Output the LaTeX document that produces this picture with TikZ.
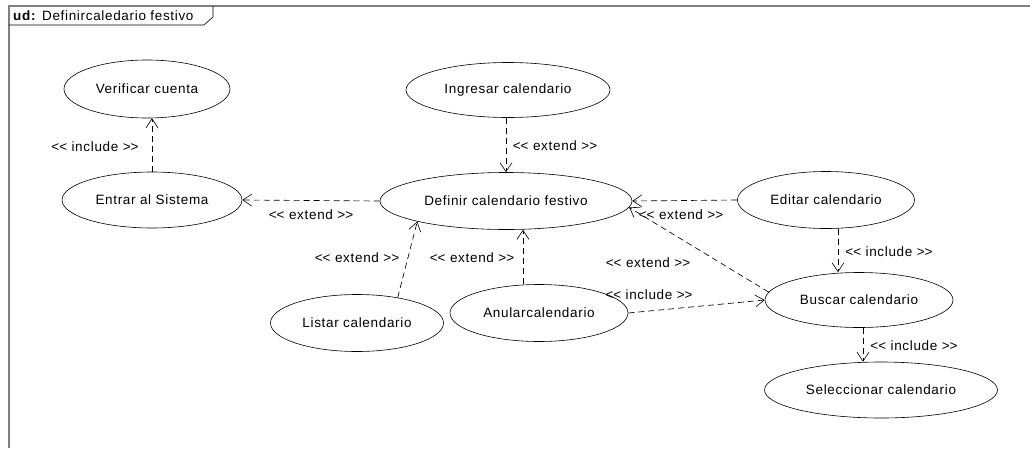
\documentclass[tikz,border=0pt]{standalone}
\usepackage{fontspec}
\setmainfont{Liberation Sans}[LetterSpace=5]
\usetikzlibrary{shapes.geometric,arrows.meta,calc}
\newcommand\stlt{\mbox{<}\mbox{<}}
\newcommand\stgt{\mbox{>}\mbox{>}}
\begin{document}
\begin{tikzpicture}[x=1pt,y=-1pt,
  font=\fontsize{13.5}{16}\selectfont,
  uc/.style={draw=black, line width=0.6pt, ellipse, inner sep=0pt},
  dep/.style={draw=black, line width=0.65pt, dash pattern=on 6pt off 4pt,
     -{Straight Barb[length=9pt,width=12pt,line width=0.6pt]}},
  lbl/.style={inner sep=0pt}]
\useasboundingbox (0,0) rectangle (1030,448);
\fill[white] (0,0) rectangle (1030,448);
% frame
\draw[gray, line width=1.2pt] (9,448) -- (9,6) -- (1030,6);
\draw[black, line width=0.6pt] (9,25) -- (204,25) -- (213,17) -- (213,6);
\node[lbl, anchor=west] (title) at (13,16) {\textbf{ud:} Definircaledario festivo};
% use cases
\node[uc, minimum width=166pt, minimum height=58pt] (verificar) at (147,89) {Verificar cuenta};
\node[uc, minimum width=204pt, minimum height=55pt] (ingresar) at (508,90) {Ingresar calendario};
\node[uc, minimum width=180pt, minimum height=56pt] (entrar) at (152,200) {Entrar al Sistema};
\node[uc, minimum width=252pt, minimum height=57pt] (definir) at (506,201) {Definir calendario festivo};
\node[uc, minimum width=177pt, minimum height=57pt] (editar) at (826,200) {Editar calendario};
\node[uc, minimum width=188pt, minimum height=55pt] (buscar) at (859,300) {Buscar calendario};
\node[uc, minimum width=233pt, minimum height=56pt] (seleccionar) at (881,390) {Seleccionar calendario};
\node[uc, minimum width=173pt, minimum height=57pt] (listar) at (357,323) {Listar calendario};
\node[uc, minimum width=178pt, minimum height=57pt] (anular) at (539,313) {Anularcalendario};
% connector end points
\coordinate (anS) at ($(anular.north)+(-16,0)$);
\coordinate (edS) at ($(editar.south)+(12,0)$);
\coordinate (buS) at ($(buscar.south)+(4,0)$);
% connectors
\draw[dep] (entrar.north) -- (entrar.north |- verificar.south);
\draw[dep] (definir.north |- ingresar.south) -- (definir.north);
\draw[dep] (definir.west) -- (entrar.east);
\draw[dep] (listar.32) -- (definir.193.7);
\draw[dep] (anS) -- (anS |- definir.south);
\draw[dep] (editar.west) -- (definir.east);
\draw[dep] (buscar.175.6) -- (definir.-3.5);
\draw[dep] (anular.east) -- (buscar.west);
\draw[dep] (edS) -- (edS |- buscar.north);
\draw[dep] (buS) -- (buS |- seleccionar.north);
% labels
\node[lbl] (l1) at (95,147) {\stlt{} include \stgt};
\node[lbl] (l2) at (555,146) {\stlt{} extend \stgt};
\node[lbl] (l3) at (311,215) {\stlt{} extend \stgt};
\node[lbl] (l4) at (357,258) {\stlt{} extend \stgt};
\node[lbl] (l5) at (472,258) {\stlt{} extend \stgt};
\node[lbl] (l6) at (681,215) {\stlt{} extend \stgt};
\node[lbl] (l7) at (648,263) {\stlt{} extend \stgt};
\node[lbl] (l8) at (649,295) {\stlt{} include \stgt};
\node[lbl] (l9) at (889,252) {\stlt{} include \stgt};
\node[lbl] (l10) at (914,346) {\stlt{} include \stgt};
\end{tikzpicture}
\end{document}
